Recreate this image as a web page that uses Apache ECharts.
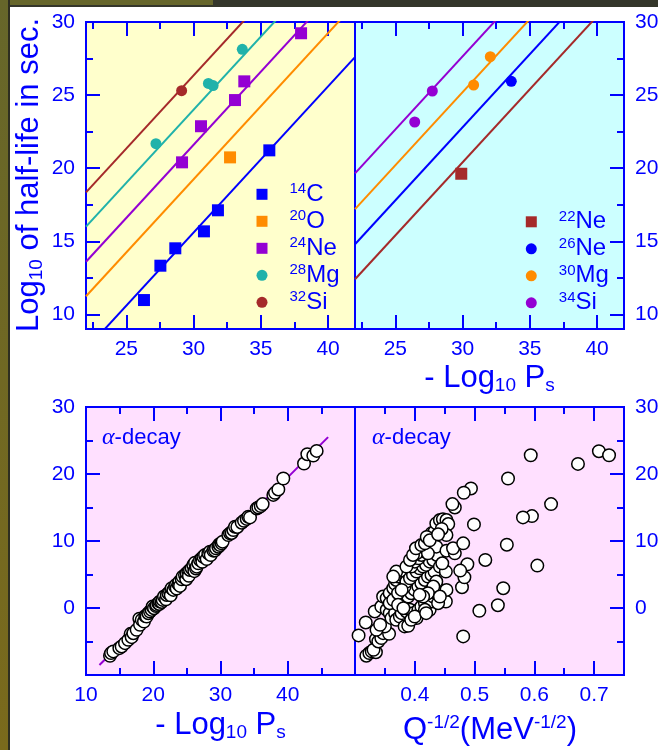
<!DOCTYPE html>
<html><head><meta charset="utf-8">
<script src="https://cdn.jsdelivr.net/npm/echarts@6/dist/echarts.min.js"></script>
<style>html,body{margin:0;padding:0;background:#fff}#c{width:658px;height:750px}</style>
</head><body><div id="c"></div>
<script>
// ---------- data ----------
const tlMass = ['14','20','24','28','32'];
const tlElem = ['C','O','Ne','Mg','Si'];
const tlColors = ['#0000ff','#ff8c00','#9400d3','#20b2aa','#a52a2a'];
const tlSymbols = ['rect','rect','rect','circle','circle'];
const tlX = [
  [26.31, 27.53, 28.64, 30.77, 31.81, 35.63],
  [32.71],
  [29.14, 30.55, 33.08, 33.77, 37.99],
  [27.20, 31.10, 31.45, 33.62],
  [29.11]
];
const tlY = [
  [10.98, 13.33, 14.52, 15.68, 17.12, 21.22],
  [20.74],
  [20.40, 22.87, 24.66, 25.94, 29.23],
  [21.68, 25.80, 25.65, 28.13],
  [25.30]
];
const fitX = [22, 42];
const tlFitStart = [7.6, 11.24, 13.6, 16.0, 18.35];
const tlFitEnd   = [27.6, 31.24, 33.6, 36.0, 38.35];

const trMass = ['22','26','30','34'];
const trElem = ['Ne','Ne','Mg','Si'];
const trColors = ['#a52a2a','#0000ff','#ff8c00','#9400d3'];
const trSymbols = ['rect','circle','circle','circle'];
const trX = [[29.90],[33.62],[30.82, 32.06],[26.44, 27.75]];
const trY = [[19.62],[25.94],[25.69, 27.63],[23.16, 25.28]];
const trFitStart = [12.4, 14.8, 17.2, 19.65];
const trFitEnd   = [32.4, 34.8, 37.2, 39.65];

const blFitX = [12, 46];
const blFitY = [-8.5, 25.5];
const blPoints = [
 [13.57,-7.13],[13.72,-6.73],[14.06,-6.48],[14.96,-5.99],[15.30,-5.74],[15.80,-5.25],[16.29,-4.75],
 [16.64,-3.86],[16.79,-4.35],[17.04,-3.76],[17.53,-3.26],[17.93,-1.6],[18.03,-2.51],[18.28,-1.77],
 [18.62,-2.02],[18.82,-1.2],[19.02,-1.27],[19.27,-0.78],[19.52,-0.53],[19.76,-0.28],[19.91,0.22],
 [20.11,-0.03],[20.41,0.3],[20.51,0.46],[20.76,0.71],[20.9,0.6],[21.00,0.96],[21.25,0.9],[21.40,1.21],
 [21.60,1.71],[21.9,1.3],[22.00,1.95],[22.24,2.20],[22.49,2.45],[22.6,1.9],[22.74,2.95],[22.99,2.70],
 [23.23,3.19],[23.38,3.44],[23.48,2.9],[23.73,3.59],[23.88,3.94],[23.98,3.3],[24.23,4.29],[24.37,4.68],
 [24.72,4.93],[24.9,4.3],[24.97,5.18],[25.22,5.43],[25.3,4.8],[25.46,5.68],[25.71,5.92],[25.96,6.42],
 [26.11,5.5],[26.21,6.77],[26.36,5.9],[26.46,6.17],[26.70,6.67],[26.95,7.17],[27.20,7.41],[27.3,6.9],
 [27.45,7.66],[27.70,7.91],[27.94,7.3],[28.19,8.16],[28.44,8.41],[28.54,7.9],[28.93,8.56],[29.18,8.6],
 [29.33,8.90],[29.68,9.15],[29.8,9.5],[29.93,9.40],[30.17,9.65],[30.32,9.9],[31.16,10.89],[31.41,11.14],
 [31.66,11.2],[31.91,11.63],[32.16,12.13],[32.5,12.1],[33.15,12.73],[33.49,13.02],[33.89,13.3],
 [34.14,13.62],[34.39,13.52],[35.38,14.86],[35.63,15.01],[35.98,15.21],[36.27,15.51],[37.86,16.88],
 [38.10,17.19],[38.60,17.69],[39.34,19.33],[42.42,21.56],[42.91,22.95],[43.80,22.75],[44.30,23.45]
];
const brPoints = [
 [0.306,-4.09],[0.318,-2.16],[0.319,-7.12],[0.324,-6.72],[0.328,-6.48],[0.335,-6.6],[0.331,-6.23],
 [0.335,-4.64],[0.339,-4.99],[0.344,-4.49],[0.347,-3.75],[0.357,-3.85],[0.35,-2.75],[0.336,-3.25],[0.342,-2.5],
 [0.333,-0.52],[0.344,0.22],[0.347,1.71],[0.353,1.46],[0.358,2.21],[0.364,2.95],[0.367,3.6],[0.369,4.19],
 [0.372,4.69],[0.375,5.09],[0.381,5.29],[0.386,5.19],[0.353,-0.27],[0.358,-0.77],[0.361,-1.51],[0.367,-0.77],
 [0.369,-1.76],[0.375,-1.27],[0.378,-0.77],[0.383,-2.75],[0.389,-2.65],[0.386,-0.52],[0.392,-0.27],[0.397,-0.77],
 [0.403,-1.51],[0.406,-0.27],[0.411,0.22],[0.417,0.72],[0.425,-0.27],[0.428,0.97],[0.431,1.71],[0.436,2.21],
 [0.442,2.7],[0.447,1.22],[0.452,0.97],[0.453,2.7],[0.381,1.22],[0.389,1.71],[0.394,2.21],[0.4,2.7],[0.406,3.2],
 [0.411,3.7],[0.417,4.19],[0.422,4.69],[0.428,4.94],[0.433,5.43],[0.436,3.95],[0.431,3.2],[0.422,2.21],[0.414,1.71],
 [0.408,1.96],[0.383,3.2],[0.386,3.95],[0.392,4.44],[0.397,4.94],[0.403,5.43],[0.408,5.93],[0.414,6.18],[0.419,6.43],
 [0.425,6.92],[0.431,7.17],[0.437,7.92],[0.442,6.18],[0.452,5.43],[0.446,6.67],[0.394,6.18],[0.4,6.92],[0.406,7.42],
 [0.411,7.92],[0.417,8.41],[0.422,8.91],[0.428,9.4],[0.431,9.65],[0.436,9.16],[0.453,8.56],[0.467,8.16],[0.464,8.91],
 [0.428,11.14],[0.433,11.39],[0.436,12.63],[0.442,13.13],[0.447,13.23],[0.453,13.13],[0.456,12.53],[0.453,10.89],
 [0.414,9.16],[0.408,8.66],[0.403,8.16],[0.422,8.16],[0.358,0.72],[0.364,1.22],[0.372,2.21],[0.378,2.7],[0.372,0.47],
 [0.381,-0.03],[0.394,-1.76],[0.4,-1.27],[0.417,-0.27],[0.419,-0.77],[0.439,0.72],[0.442,1.71],[0.369,5.43],
 [0.364,4.69],[0.386,6.18],[0.392,7.17],[0.397,7.92],[0.402,8.91],[0.411,9.4],[0.417,9.65],[0.42,10.6],[0.425,10.1],
 [0.445,11.8],[0.439,11.0],
 [0.708,23.4],[0.725,22.8],[0.673,21.51],[0.594,22.8],[0.556,19.33],[0.628,15.51],[0.596,13.72],[0.581,13.52],
 [0.605,6.33],[0.554,9.45],[0.548,2.95],[0.539,0.42],[0.508,-0.42],[0.518,7.17],[0.499,12.48],[0.481,-4.24],
 [0.494,17.84],[0.482,17.2],[0.467,15.01],[0.463,15.51],[0.488,6.53],[0.479,3.1],[0.483,4.59],[0.481,9.65],[0.476,5.58]
];

// tick values
const topXLabels = [25,30,35,40], topXMajor = [25,30,35,40], topXMinor = [22.5,27.5,32.5,37.5];
const topYLabels = [10,15,20,25,30], topYMajor = [10,15,20,25], topYMinor = [12.5,17.5,22.5,27.5];
const blXLabels = [10,20,30,40], blXMajor = [20,30,40], blXMinor = [15,25,35,45];
const brXLabels = [0.4,0.5,0.6,0.7], brXMajor = [0.4,0.5,0.6,0.7], brXMinor = [0.35,0.45,0.55,0.65];
const botYLabels = [0,10,20,30], botYMajor = [0,10,20], botYMinor = [-5,5,15,25];

// ---------- chart ----------
const BLUE = '#0000ff';
const FONT = "'Liberation Sans', Arial, Helvetica, sans-serif";
const TICKFS = 21;

function tick(len, vals) {
  return {show:true, inside:true, length:len, customValues:vals, lineStyle:{color:BLUE, width:2}};
}
function mkX(gi, min, max, labels, major, minor) {
  const b = {type:'value', gridIndex:gi, min:min, max:max, splitLine:{show:false}, axisLine:{show:false, onZero:false}};
  return [
    Object.assign({}, b, {position:'bottom', axisTick:tick(14, major),
      axisLabel:{show:true, customValues:labels, color:BLUE, fontSize:TICKFS, fontFamily:FONT, margin:10}}),
    Object.assign({}, b, {position:'bottom', axisTick:tick(7, minor), axisLabel:{show:false}}),
    Object.assign({}, b, {position:'top', axisTick:tick(14, major), axisLabel:{show:false}}),
    Object.assign({}, b, {position:'top', axisTick:tick(7, minor), axisLabel:{show:false}})
  ];
}
function mkY(gi, pos, min, max, labels, major, minor) {
  const b = {type:'value', gridIndex:gi, position:pos, min:min, max:max, splitLine:{show:false}, axisLine:{show:false, onZero:false}};
  return [
    Object.assign({}, b, {axisTick:tick(14, major),
      axisLabel:{show:true, customValues:labels, color:BLUE, fontSize:TICKFS, fontFamily:FONT, margin:11}}),
    Object.assign({}, b, {axisTick:tick(7, minor), axisLabel:{show:false}})
  ];
}
function gridBox(left, top, w, h, bg) {
  return {left:left, top:top, width:w, height:h, show:true, backgroundColor:bg,
    borderColor:BLUE, borderWidth:2, containLabel:false, outerBoundsMode:'none'};
}
const pairs = (xs, ys) => xs.map((x, i) => [x, ys[i]]);

const series = [];
tlMass.forEach((m, i) => {
  series.push({type:'line', name:'fitTL'+i, xAxisIndex:0, yAxisIndex:0, data:pairs(fitX, [tlFitStart[i], tlFitEnd[i]]),
    showSymbol:false, symbol:'none', clip:true, silent:true, z:2, lineStyle:{color:tlColors[i], width:2}});
});
tlMass.forEach((m, i) => {
  series.push({type:'scatter', name:m+tlElem[i], xAxisIndex:0, yAxisIndex:0, data:pairs(tlX[i], tlY[i]),
    symbol:tlSymbols[i], symbolSize:tlSymbols[i]==='rect'?12:11, z:4, itemStyle:{color:tlColors[i], opacity:1}});
});
trMass.forEach((m, i) => {
  series.push({type:'line', name:'fitTR'+i, xAxisIndex:4, yAxisIndex:2, data:pairs(fitX, [trFitStart[i], trFitEnd[i]]),
    showSymbol:false, symbol:'none', clip:true, silent:true, z:2, lineStyle:{color:trColors[i], width:2}});
});
trMass.forEach((m, i) => {
  series.push({type:'scatter', name:m+trElem[i], xAxisIndex:4, yAxisIndex:2, data:pairs(trX[i], trY[i]),
    symbol:trSymbols[i], symbolSize:trSymbols[i]==='rect'?12:11, z:4, itemStyle:{color:trColors[i], opacity:1}});
});
series.push({type:'line', name:'fitBL', xAxisIndex:8, yAxisIndex:4, data:pairs(blFitX, blFitY),
  showSymbol:false, symbol:'none', silent:true, z:2, lineStyle:{color:'#9400d3', width:2}});
series.push({type:'scatter', name:'alphaBL', xAxisIndex:8, yAxisIndex:4, data:blPoints, symbol:'circle', symbolSize:12.5, z:4,
  itemStyle:{color:'#ffffff', borderColor:'#000000', borderWidth:1.5, opacity:1}});
series.push({type:'scatter', name:'alphaBR', xAxisIndex:12, yAxisIndex:6, data:brPoints, symbol:'circle', symbolSize:12.5, z:4,
  itemStyle:{color:'#ffffff', borderColor:'#000000', borderWidth:1.5, opacity:1}});

const legendRich = {
  s:{fontSize:15, fontFamily:FONT, color:BLUE, verticalAlign:'top', lineHeight:15},
  n:{fontSize:24, fontFamily:FONT, color:BLUE, lineHeight:25}
};
function legendFmt(name) {
  const mm = name.match(/^(\d+)(\D+)$/);
  return '{s|' + mm[1] + '}{n|' + mm[2] + '}';
}
function legendBox(names, left, top) {
  return {data:names, left:left, top:top, orient:'vertical', itemWidth:11, itemHeight:11, itemGap:2.5,
    selectedMode:false, formatter:legendFmt, padding:0,
    textStyle:{color:BLUE, fontFamily:FONT, padding:[0,0,0,17], rich:legendRich}};
}

const rsub = (fs) => ({fontSize:fs, fontFamily:FONT, fill:BLUE, lineHeight:14, verticalAlign:'bottom'});
const rsup = (fs) => ({fontSize:fs, fontFamily:FONT, fill:BLUE, lineHeight:14, verticalAlign:'top'});
const rmain = (fs) => ({fontSize:fs, fontFamily:FONT, fill:BLUE, lineHeight:34});

function titleText(x, y, text, rich, rot) {
  return {type:'text', x:x, y:y, rotation:rot||0, z:50,
    style:{text:text, align:'center', verticalAlign:'middle', fill:BLUE, rich:rich}};
}
function alphaText(x, y) {
  return {type:'text', x:x, y:y, z:50, style:{text:'{a|α}{b|-decay}', align:'left', verticalAlign:'top', fill:BLUE,
    rich:{a:{fontSize:24, fontFamily:"'Liberation Serif', 'DejaVu Serif', serif", fontStyle:'italic', fill:BLUE, lineHeight:26},
          b:{fontSize:22, fontFamily:FONT, fill:BLUE, lineHeight:26}}}};
}

const option = {
  animation:false,
  backgroundColor:'#ffffff',
  grid:[
    gridBox(86, 22, 269, 307, '#ffffcc'),
    gridBox(355, 22, 269, 307, '#ccffff'),
    gridBox(86, 407, 269, 268, '#ffe0ff'),
    gridBox(355, 407, 269, 268, '#ffe0ff')
  ],
  xAxis:[].concat(
    mkX(0, 22, 42, topXLabels, topXMajor, topXMinor),
    mkX(1, 22, 42, topXLabels, topXMajor, topXMinor),
    mkX(2, 10, 50, blXLabels, blXMajor, blXMinor),
    mkX(3, 0.3, 0.75, brXLabels, brXMajor, brXMinor)
  ),
  yAxis:[].concat(
    mkY(0, 'left', 9, 30, topYLabels, topYMajor, topYMinor),
    mkY(1, 'right', 9, 30, topYLabels, topYMajor, topYMinor),
    mkY(2, 'left', -10, 30, botYLabels, botYMajor, botYMinor),
    mkY(3, 'right', -10, 30, botYLabels, botYMajor, botYMinor)
  ),
  legend:[
    legendBox(tlMass.map((m, i) => m + tlElem[i]), 256.5, 181.8),
    legendBox(trMass.map((m, i) => m + trElem[i]), 525.8, 209.3)
  ],
  series:series,
  graphic:[
    {type:'rect', shape:{x:0, y:0, width:658, height:7}, style:{fill:'#34362a'}, z:1},
    {type:'rect', shape:{x:0, y:0, width:213, height:5}, style:{fill:'#66662a'}, z:2},
    {type:'rect', shape:{x:0, y:0, width:10, height:750}, style:{fill:'#2e2e20'}, z:3},
    {type:'rect', shape:{x:0, y:0, width:8, height:750}, z:4,
      style:{fill:new echarts.graphic.LinearGradient(0, 0, 0, 1, [{offset:0, color:'#66662a'}, {offset:1, color:'#7a6a1c'}])}},
    titleText(29, 175, '{a|Log}{b|10}{a| of half-life in sec.}', {a:rmain(31), b:rsub(19)}, Math.PI/2),
    titleText(489.5, 378, '{a|- Log}{b|10}{a| P}{b|s}', {a:rmain(31), b:rsub(19)}),
    titleText(220.5, 725, '{a|- Log}{b|10}{a| P}{b|s}', {a:rmain(31), b:rsub(19)}),
    titleText(490, 730, '{a|Q}{b|-1/2}{a|(MeV}{b|-1/2}{a|)}', {a:rmain(31), b:rsup(19)}),
    alphaText(102, 425),
    alphaText(372, 425)
  ]
};
const chart = echarts.init(document.getElementById('c'), null, {renderer:'canvas'});
chart.setOption(option);
</script></body></html>
